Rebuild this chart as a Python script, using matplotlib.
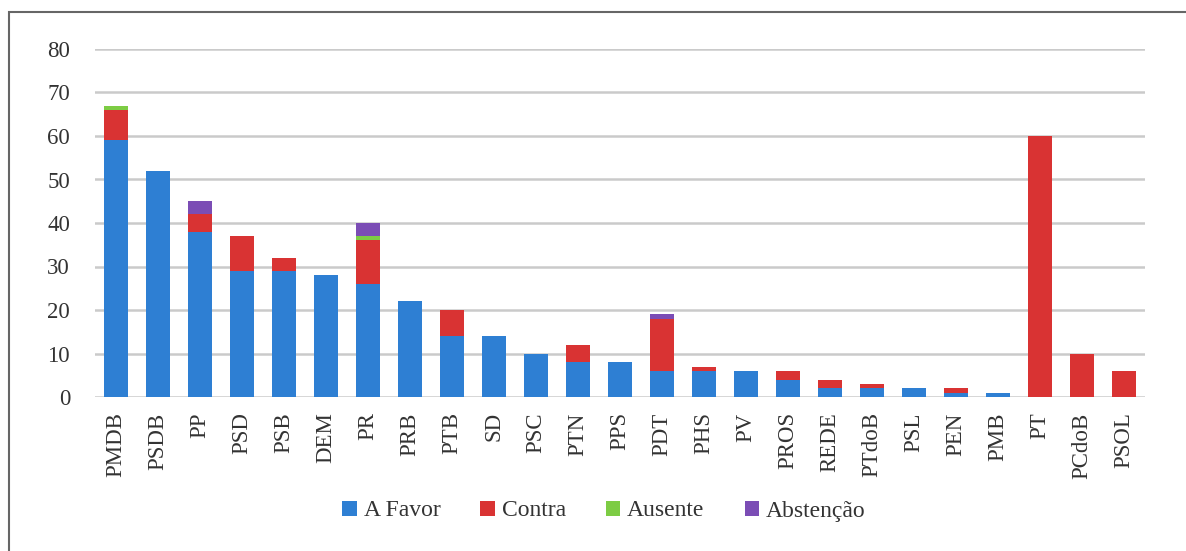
import numpy as np
import matplotlib
matplotlib.use('Agg')
import matplotlib.pyplot as plt
from matplotlib.patches import Rectangle

# party names (x axis)
parties = ['PMDB', 'PSDB', 'PP', 'PSD', 'PSB', 'DEM', 'PR', 'PRB', 'PTB', 'SD',
           'PSC', 'PTN', 'PPS', 'PDT', 'PHS', 'PV', 'PROS', 'REDE', 'PTdoB',
           'PSL', 'PEN', 'PMB', 'PT', 'PCdoB', 'PSOL']

# votes per party
a_favor = [59, 52, 38, 29, 29, 28, 26, 22, 14, 14, 10, 8, 8, 6, 6, 6, 4, 2, 2, 2, 1, 1, 0, 0, 0]
contra = [7, 0, 4, 8, 3, 0, 10, 0, 6, 0, 0, 4, 0, 12, 1, 0, 2, 2, 1, 0, 1, 0, 60, 10, 6]
ausente = [1, 0, 0, 0, 0, 0, 1, 0, 0, 0, 0, 0, 0, 0, 0, 0, 0, 0, 0, 0, 0, 0, 0, 0, 0]
abstencao = [0, 0, 3, 0, 0, 0, 3, 0, 0, 0, 0, 0, 0, 1, 0, 0, 0, 0, 0, 0, 0, 0, 0, 0, 0]

yticks = [0, 10, 20, 30, 40, 50, 60, 70, 80]

plt.rcParams['font.family'] = ['Liberation Serif', 'DejaVu Serif']

fig = plt.figure(figsize=(11.86, 5.51), dpi=100)
ax = fig.add_axes([95 / 1186, 1 - 397 / 551, 1050 / 1186, 348 / 551])

x = np.arange(len(parties))
w = 0.57
series = [('A Favor', a_favor, '#2E7FD3'),
          ('Contra', contra, '#D93333'),
          ('Ausente', ausente, '#7DCC44'),
          ('Abstenção', abstencao, '#7B4DB5')]
bottom = np.zeros(len(parties))
for name, vals, col in series:
    vals = np.array(vals, dtype=float)
    ax.bar(x, vals, w, bottom=bottom, color=col, label=name, zorder=3)
    bottom += vals

ax.set_xlim(-0.5, len(parties) - 0.5)
ax.set_ylim(0, 80)
ax.set_yticks(yticks)
ax.set_xticks(x)
ax.set_xticklabels(parties, rotation=90, fontsize=16.5, color='#333333')
ax.tick_params(axis='y', labelsize=16.5, colors='#333333', length=0, pad=18)
ax.tick_params(axis='x', length=0, pad=11)
ax.grid(axis='y', color='#cacaca', linewidth=1.8, zorder=0)
for s in ['top', 'right', 'left', 'bottom']:
    ax.spines[s].set_visible(False)

ax.legend(loc='center', bbox_to_anchor=(604 / 1186, 1 - 511 / 551),
          bbox_transform=fig.transFigure, ncol=4, frameon=False,
          fontsize=17, handlelength=0.6, handleheight=0.6,
          handletextpad=0.3, columnspacing=1.7, labelcolor='#333333')

# outer frame (right and bottom cropped off)
fig.patches.append(Rectangle((9 / 1186, -0.1), 1.2, 1 - 12 / 551 + 0.1,
                             transform=fig.transFigure, fill=False,
                             edgecolor='#666666', linewidth=1.5))

fig.savefig('out.png', dpi=100)
